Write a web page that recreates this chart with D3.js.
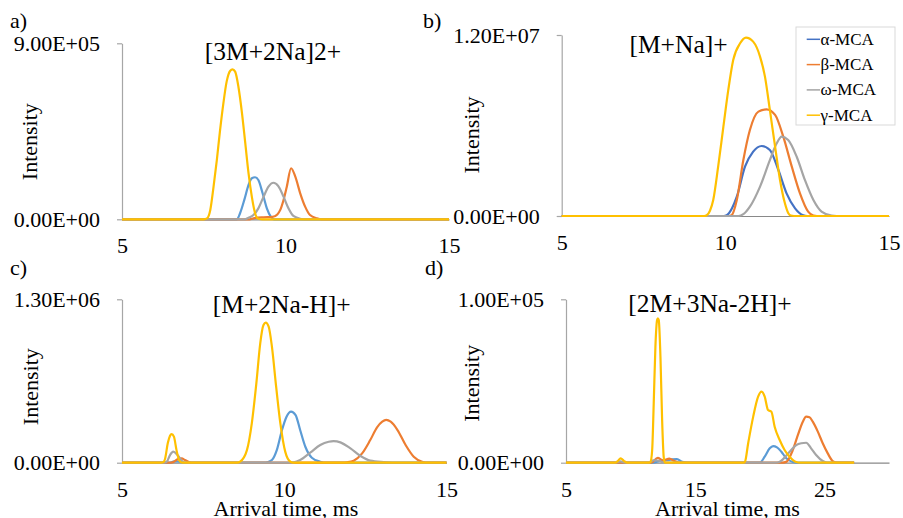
<!DOCTYPE html>
<html>
<head>
<meta charset="utf-8">
<script src="https://cdn.jsdelivr.net/npm/d3@7"></script>
<style>
  body { margin: 0; background: #fff; }
  svg { display: block; }
</style>
</head>
<body>
<svg id="chart"></svg>
<script>
const width = 903;
const height = 518;

// Series
const seriesNames = ["α-MCA", "β-MCA", "ω-MCA", "γ-MCA"];
const seriesColors = ["#5B9BD5", "#ED7D31", "#A5A5A5", "#FFC000"];

// a) [3M+2Na]2+   (time ms, intensity x1e5)
const aAlpha = [[5,0],[8.51,0],[8.61,0.31],[8.74,0.99],[8.87,1.76],[8.97,2.10],[9.07,2.15],[9.17,2.01],[9.30,1.33],[9.43,0.56],[9.55,0.14],[9.65,0],[15,0]];
const aBeta = [[5,0],[8.9,0],[9.02,0.05],[9.33,0.1],[9.6,0.12],[9.75,0.25],[9.84,0.48],[9.94,0.99],[10.04,1.67],[10.17,2.61],[10.30,2.18],[10.45,1.33],[10.60,0.65],[10.75,0.22],[10.96,0.05],[11.1,0],[15,0]];
const aOmega = [[5,0],[8.75,0],[8.87,0.08],[9.02,0.22],[9.17,0.56],[9.33,1.16],[9.48,1.67],[9.63,1.87],[9.78,1.70],[9.94,1.16],[10.09,0.56],[10.24,0.17],[10.45,0.03],[10.6,0],[15,0]];
const aGamma = [[5,0],[7.5,0],[7.6,0.05],[7.70,0.48],[7.80,1.67],[7.90,3.03],[8.0,4.57],[8.10,5.93],[8.20,7.04],[8.31,7.6],[8.38,7.67],[8.46,7.55],[8.56,6.78],[8.67,5.42],[8.77,3.89],[8.87,2.35],[8.97,1.16],[9.07,0.31],[9.17,0.03],[9.3,0],[15,0]];

// b) [M+Na]+   (x1e6)
const bAlpha = [[5,0],[9.95,0],[10.04,0.05],[10.2,0.5],[10.35,1.28],[10.6,3.27],[10.85,4.27],[11.11,4.64],[11.36,4.38],[11.62,3.05],[11.87,1.50],[12.13,0.51],[12.38,0.05],[12.5,0],[15,0]];
const bBeta = [[5,0],[10.1,0],[10.19,0.05],[10.35,1.06],[10.55,3.71],[10.75,5.70],[11.01,6.92],[11.26,7.07],[11.52,6.70],[11.77,5.26],[12.03,3.27],[12.28,1.50],[12.53,0.29],[12.69,0.03],[12.8,0],[15,0]];
const bOmega = [[5,0],[10.4,0],[10.55,0.12],[10.75,0.62],[11.06,1.95],[11.36,3.71],[11.57,4.82],[11.72,5.26],[11.92,5.04],[12.18,3.93],[12.43,2.39],[12.69,1.06],[12.94,0.29],[13.25,0.02],[13.4,0],[15,0]];
const bGamma = [[5,0],[9.35,0],[9.43,0.05],[9.53,0.35],[9.63,1.06],[9.78,3.27],[9.94,5.92],[10.09,8.36],[10.24,10.34],[10.45,11.45],[10.63,11.83],[10.85,11.56],[11.06,10.57],[11.21,9.24],[11.36,7.03],[11.52,4.60],[11.67,2.39],[11.82,0.84],[11.92,0.2],[12.0,0.03],[12.1,0],[15,0]];

// c) [M+2Na-H]+   (x1e5)
const cAlpha = [[5,0],[6.45,0],[6.58,0.08],[6.7,0.1],[6.85,0.03],[7,0],[9.4,0],[9.47,0.03],[9.62,0.21],[9.77,1.0],[9.93,2.6],[10.07,3.66],[10.21,4.06],[10.35,3.79],[10.49,2.6],[10.65,1.27],[10.85,0.4],[11.11,0.08],[11.3,0],[15,0]];
const cBeta = [[5,0],[6.45,0],[6.58,0.05],[6.71,0.27],[6.84,0.34],[6.94,0.21],[7.09,0.03],[7.2,0],[11.8,0],[11.94,0.03],[12.14,0.16],[12.40,0.74],[12.65,1.80],[12.86,2.81],[13.02,3.26],[13.14,3.40],[13.28,3.26],[13.49,2.6],[13.74,1.41],[13.99,0.48],[14.25,0.08],[14.45,0],[15,0]];
const cOmega = [[5,0],[6.3,0],[6.38,0.08],[6.48,0.61],[6.58,0.88],[6.71,0.61],[6.84,0.16],[6.95,0],[10.1,0],[10.29,0.03],[10.49,0.21],[10.80,0.80],[11.11,1.41],[11.37,1.67],[11.52,1.72],[11.73,1.62],[12.04,1.14],[12.35,0.53],[12.65,0.16],[13.07,0.05],[13.58,0],[15,0]];
const cGamma = [[5,0],[6.2,0],[6.28,0.05],[6.33,0.34],[6.41,1.54],[6.48,2.15],[6.53,2.28],[6.60,2.07],[6.68,1.0],[6.76,0.2],[6.85,0],[8.55,0],[8.64,0.08],[8.85,1.0],[9.0,3.13],[9.14,6.31],[9.26,9.5],[9.36,10.95],[9.43,11.14],[9.52,10.82],[9.62,9.23],[9.75,6.05],[9.88,3.13],[10.03,0.88],[10.19,0.08],[10.3,0],[15,0]];

// d) [2M+3Na-2H]+   (x1e4)
const dAlpha = [[5,0],[11.8,0],[12.2,0.1],[12.8,0.15],[13.2,0.2],[13.59,0.22],[14,0.05],[14.4,0],[20.0,0],[20.38,0.37],[20.77,0.88],[21.03,1.02],[21.33,0.94],[21.67,0.67],[22.05,0.27],[22.56,0.04],[22.9,0],[27.3,0]];
const dBeta = [[5,0],[11.6,0],[12.1,0.3],[12.5,0.15],[13.0,0.25],[13.4,0.1],[13.8,0],[21.7,0],[22.05,0.05],[22.56,0.78],[22.95,1.7],[23.33,2.51],[23.59,2.82],[23.85,2.78],[24.1,2.51],[24.49,1.9],[24.87,1.19],[25.26,0.57],[25.64,0.1],[26.0,0],[27.3,0]];
const dOmega = [[5,0],[8.8,0],[9.2,0.08],[9.6,0],[11.4,0],[11.79,0.15],[12.2,0.12],[12.6,0],[21.2,0],[21.54,0.06],[22.31,0.67],[22.82,1.08],[23.21,1.19],[23.59,1.22],[23.97,0.88],[24.36,0.47],[24.87,0.1],[25.2,0],[27.3,0]];
const dGamma = [[5,0],[8.8,0],[9.0,0.1],[9.23,0.27],[9.5,0.1],[9.75,0],[11.45,0],[11.54,0.05],[11.67,0.78],[11.79,3.63],[11.92,7.1],[12.05,8.73],[12.11,8.84],[12.18,8.73],[12.31,6.49],[12.44,2.61],[12.56,0.37],[12.65,0],[18.75,0],[18.85,0.05],[19.1,1.19],[19.49,2.82],[19.87,4.04],[20.13,4.35],[20.38,4.04],[20.64,3.22],[20.9,3.12],[21.15,2.2],[21.54,1.39],[21.92,0.78],[22.31,0.37],[22.82,0.04],[23.1,0],[27.3,0]];

// Axes values
const titles = ["[3M+2Na]2+", "[M+Na]+", "[M+2Na-H]+", "[2M+3Na-2H]+"];
const letters = ["a)", "b)", "c)", "d)"];
const xDomains = [[5, 15], [5, 15], [5, 15], [5, 30]];
const xTickValues = [[5, 10, 15], [5, 10, 15], [5, 10, 15], [5, 15, 25]];
const yMaxes = [9e5, 1.2e7, 1.3e6, 1e5];
const units = [1e5, 1e6, 1e5, 1e4];

// Layout (pixel boxes of each plot area)
const boxes = [
    { left: 122, right: 449, top: 43.3, bottom: 219.3, title: [273, 60], letter: [10, 28], ylab: [37, 141.7], xlab: null },
    { left: 561.7, right: 889, top: 35, bottom: 216, title: [678.5, 52.5], letter: [423, 28], ylab: [478.5, 135], xlab: null },
    { left: 122, right: 446.5, top: 299.3, bottom: 462.7, title: [281.7, 313], letter: [10, 275], ylab: [38, 386.7], xlab: [286, 516] },
    { left: 566, right: 889, top: 299.3, bottom: 462.7, title: [710, 311.5], letter: [425, 275], ylab: [479, 383.3], xlab: [727.5, 516] }
];

const panelData = [
    [aAlpha, aBeta, aOmega, aGamma],
    [bAlpha, bBeta, bOmega, bGamma],
    [cAlpha, cBeta, cOmega, cGamma],
    [dAlpha, dBeta, dOmega, dGamma]
];

const font = "'Liberation Serif', 'Times New Roman', serif";

const svg = d3.select("#chart")
    .attr("width", width)
    .attr("height", height)
    .style("font-family", font);

svg.append("rect")
    .attr("width", width)
    .attr("height", height)
    .attr("fill", "#fff");

// 9.00E+05 style
function sci(v) {
    const s = d3.format(".2e")(v);
    const [m, e] = s.split("e");
    const sign = e[0];
    const digits = e.slice(1).padStart(2, "0");
    return m + "E" + sign + digits;
}

panelData.forEach((series, i) => {
    const b = boxes[i];

    const x = d3.scaleLinear()
        .domain(xDomains[i])
        .range([b.left, b.right]);

    const y = d3.scaleLinear()
        .domain([0, yMaxes[i]])
        .range([b.bottom, b.top]);

    const g = svg.append("g");

    // y axis
    const yAxis = g.append("g")
        .attr("transform", `translate(${b.left},0)`)
        .call(d3.axisLeft(y)
            .tickValues([0, yMaxes[i]])
            .tickSize(5)
            .tickSizeOuter(0)
            .tickPadding(17)
            .tickFormat(sci));
    yAxis.select(".domain").attr("stroke", "#a6a6a6").attr("stroke-width", 1.2);
    yAxis.selectAll(".tick line").attr("stroke", "#a6a6a6").attr("stroke-width", 1.2);
    yAxis.selectAll("text")
        .attr("font-family", font)
        .attr("font-size", 22)
        .attr("fill", "#000");

    // x axis
    const xAxis = g.append("g")
        .attr("transform", `translate(0,${b.bottom})`)
        .call(d3.axisBottom(x)
            .tickValues(xTickValues[i])
            .tickSize(0)
            .tickSizeOuter(0)
            .tickFormat(d3.format("d")));
    xAxis.select(".domain").attr("stroke", "#898989").attr("stroke-width", 1.2);
    xAxis.selectAll("text")
        .attr("font-family", font)
        .attr("font-size", 22)
        .attr("fill", "#000")
        .attr("y", 34)
        .attr("dy", 0);

    // lines
    const line = d3.line()
        .x(d => x(d[0]))
        .y(d => y(d[1] * units[i]))
        .curve(d3.curveMonotoneX);

    series.forEach((pts, k) => {
        g.append("path")
            .datum(pts)
            .attr("fill", "none")
            .attr("stroke", (i === 1 && k === 0) ? "#4472C4" : seriesColors[k])
            .attr("stroke-width", 2.2)
            .attr("stroke-linejoin", "round")
            .attr("d", line);
    });

    // texts
    g.append("text")
        .attr("x", b.title[0])
        .attr("y", b.title[1])
        .attr("text-anchor", "middle")
        .attr("font-size", 25.5)
        .text(titles[i]);

    g.append("text")
        .attr("x", b.letter[0])
        .attr("y", b.letter[1])
        .attr("font-size", 22)
        .text(letters[i]);

    g.append("text")
        .attr("transform", `translate(${b.ylab[0]},${b.ylab[1]}) rotate(-90)`)
        .attr("text-anchor", "middle")
        .attr("font-size", 22)
        .text("Intensity");

    if (b.xlab) {
        g.append("text")
            .attr("x", b.xlab[0])
            .attr("y", b.xlab[1])
            .attr("text-anchor", "middle")
            .attr("font-size", 22)
            .text("Arrival time, ms");
    }
});

// Legend (in panel b)
const legend = svg.append("g").attr("transform", "translate(796,27)");
legend.append("rect")
    .attr("width", 99)
    .attr("height", 98)
    .attr("fill", "#fff")
    .attr("stroke", "#d9d9d9");

seriesNames.forEach((name, k) => {
    const ly = 12.3 + k * 25.3;
    legend.append("line")
        .attr("x1", 10.7).attr("x2", 24)
        .attr("y1", ly).attr("y2", ly)
        .attr("stroke", k === 0 ? "#4472C4" : seriesColors[k])
        .attr("stroke-width", 1.5);
    legend.append("text")
        .attr("x", 24.5)
        .attr("y", ly + 5.5)
        .attr("font-size", 17)
        .text(name);
});
</script>
</body>
</html>
